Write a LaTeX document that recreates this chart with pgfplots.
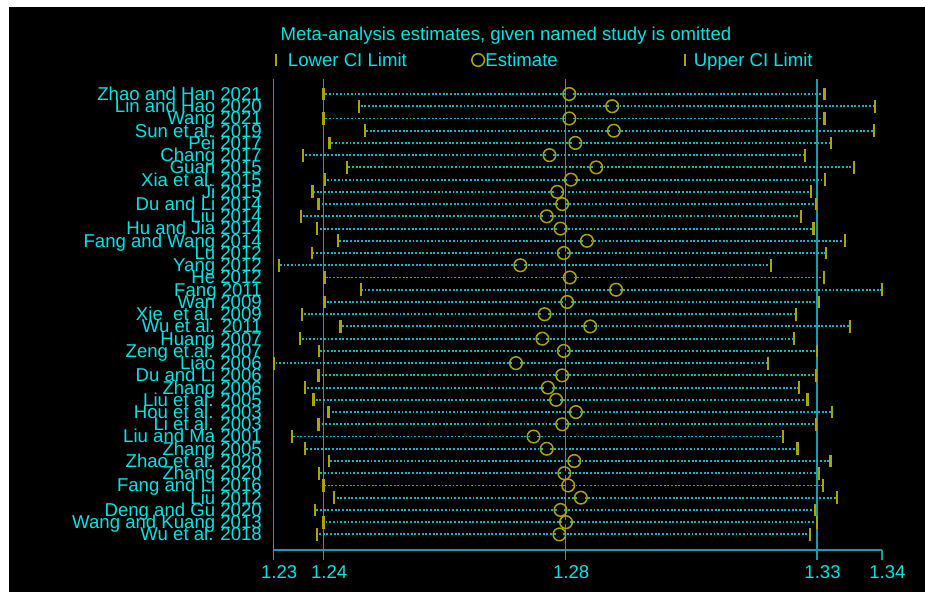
\documentclass[border=0pt]{standalone}
\usepackage{pgfplots}
\pgfplotsset{compat=1.18}
\usepackage{pgfplotstable}
\usepackage{fontspec}
\setmainfont{Liberation Sans}
\definecolor{cyanT}{RGB}{0,228,228}
\definecolor{lineT}{RGB}{20,158,168}
\definecolor{dotT}{RGB}{0,185,195}
\definecolor{oliveT}{RGB}{168,164,0}
\newcommand\ff{\fontsize{18.6pt}{20pt}\selectfont}

\pgfplotstableread{
y lo est hi
37 1.2393 1.2840 1.3304
36 1.2458 1.2918 1.3396
35 1.2393 1.2840 1.3304
34 1.2469 1.2921 1.3394
33 1.2404 1.2851 1.3316
32 1.2356 1.2804 1.3268
31 1.2436 1.2889 1.3358
30 1.2396 1.2843 1.3305
29 1.2373 1.2818 1.3280
28 1.2384 1.2827 1.3289
27 1.2352 1.2799 1.3261
26 1.2381 1.2824 1.3284
25 1.2420 1.2872 1.3341
24 1.2372 1.2830 1.3307
23 1.2312 1.2751 1.3206
22 1.2395 1.2841 1.3303
21 1.2461 1.2925 1.3408
20 1.2395 1.2836 1.3294
19 1.2354 1.2795 1.3252
18 1.2424 1.2878 1.3350
17 1.2350 1.2791 1.3249
16 1.2385 1.2830 1.3290
15 1.2303 1.2743 1.3201
14 1.2384 1.2827 1.3289
13 1.2359 1.2801 1.3258
12 1.2375 1.2816 1.3273
11 1.2402 1.2852 1.3318
10 1.2384 1.2827 1.3289
9 1.2336 1.2775 1.3229
8 1.2359 1.2799 1.3255
7 1.2403 1.2849 1.3315
6 1.2385 1.2831 1.3294
5 1.2393 1.2838 1.3301
4 1.2412 1.2861 1.3327
3 1.2378 1.2824 1.3287
2 1.2393 1.2834 1.3290
1 1.2381 1.2822 1.3278
}\data

\begin{document}
\begin{tikzpicture}[x=1pt,y=1pt]
\fill[white] (0,0) rectangle (925,592);
\fill[black] (9,0) rectangle (925,584.5);
\begin{axis}[
  at={(273.4pt,42pt)}, anchor=south west,
  scale only axis, width=608.3pt, height=471pt,
  xmin=1.2302, xmax=1.3408, ymin=-0.275, ymax=38.226,
  clip=false,
  font=\ff,
  /pgf/number format/assume math mode=true,
  axis x line*=bottom, axis y line*=left,
  x axis line style={draw=lineT, line width=1.6pt, -},
  y axis line style={draw=none},
  xtick={1.2302,1.2393,1.2833,1.3290},
  xticklabels={1.23,1.24,1.28,1.33},
  extra x ticks={1.3408}, extra x tick labels={1.34},
  extra x tick style={grid=none},
  xmajorgrids=true,
  major grid style={draw=lineT, line width=1.6pt},
  xtick align=outside, ytick align=inside,
  major tick length=10pt,
  xtick style={draw=lineT, line width=1.6pt},
  xticklabel style={text=cyanT, font=\ff, inner sep=0pt, xshift=5.7pt, yshift=-5pt},
  ytick={1,...,37},
  yticklabels={Wu et al. 2018, Wang and Kuang 2013, Deng and Gu 2020, Liu 2012, Fang and Li 2016, Zhang 2020, Zhao et al. 2020, Zhang 2005, Liu and Ma 2001, Li et al. 2003, Hou et al. 2003, Liu et al. 2005, Zhang 2006, Du and Li 2006, Liao 2006, Zeng et al. 2007, Huang 2007, Wu et al. 2011, Xie\ \ et al. 2009, Wan 2009, Fang 2011, He 2012, Yang 2012, Lu 2012, Fang and Wang 2014, Hu and Jia 2014, Liu 2014, Du and Li 2014, Ji 2015, Xia et al. 2015, Guan 2015, Chang 2017, Pei 2017, Sun et al. 2019, Wang 2021, Lin and Hao 2020, Zhao and Han 2021},
  ytick style={draw=none},
  yticklabel style={text=cyanT, font=\ff, anchor=base east, inner sep=0pt, xshift=-11.4pt, yshift=-6.4pt},
  title={Meta-analysis estimates, given named study is omitted},
  title style={text=cyanT, font=\ff, at={(axis description cs:0.3824,1.0782)}, anchor=center},
  legend columns=3,
  legend style={draw=none, fill=none, text=cyanT, font=\ff, inner sep=0pt,
    at={(axis description cs:0.0039,1.0403)}, anchor=west,
    nodes={inner sep=1pt},
    /tikz/column 1/.style={column sep=11pt},
    /tikz/column 2/.style={column sep=64pt},
    /tikz/column 3/.style={column sep=0pt},
    /tikz/column 4/.style={column sep=126pt},
    /tikz/column 5/.style={column sep=8pt}},
  legend image code/.code={\draw[#1] plot coordinates {(0pt,0pt)};},
]
\addplot[forget plot, only marks, mark=none,
  error bars/.cd, x dir=both, x explicit, error mark=none,
  error bar style={draw=dotT, line width=1.9pt, solid, dash pattern=on 1.9pt off 1.77pt}]
  table[x=est, y=y, x error plus expr=\thisrow{hi}-\thisrow{est}, x error minus expr=\thisrow{est}-\thisrow{lo}] {\data};
\addplot[only marks, mark=|, mark size=6.4pt, draw=oliveT, mark options={draw=oliveT, line width=2.2pt}]
  table[x=lo, y=y] {\data};
\addlegendentry{Lower CI Limit}
\addplot[only marks, mark=o, mark size=6.3pt, draw=oliveT, mark options={draw=oliveT, line width=1.5pt}]
  table[x=est, y=y] {\data};
\addlegendentry{Estimate}
\addplot[only marks, mark=|, mark size=6.4pt, draw=oliveT, mark options={draw=oliveT, line width=2.2pt}]
  table[x=hi, y=y] {\data};
\addlegendentry{Upper CI Limit}
\end{axis}
\pgfresetboundingbox
\useasboundingbox (0,0) rectangle (925,592);
\end{tikzpicture}
\end{document}
